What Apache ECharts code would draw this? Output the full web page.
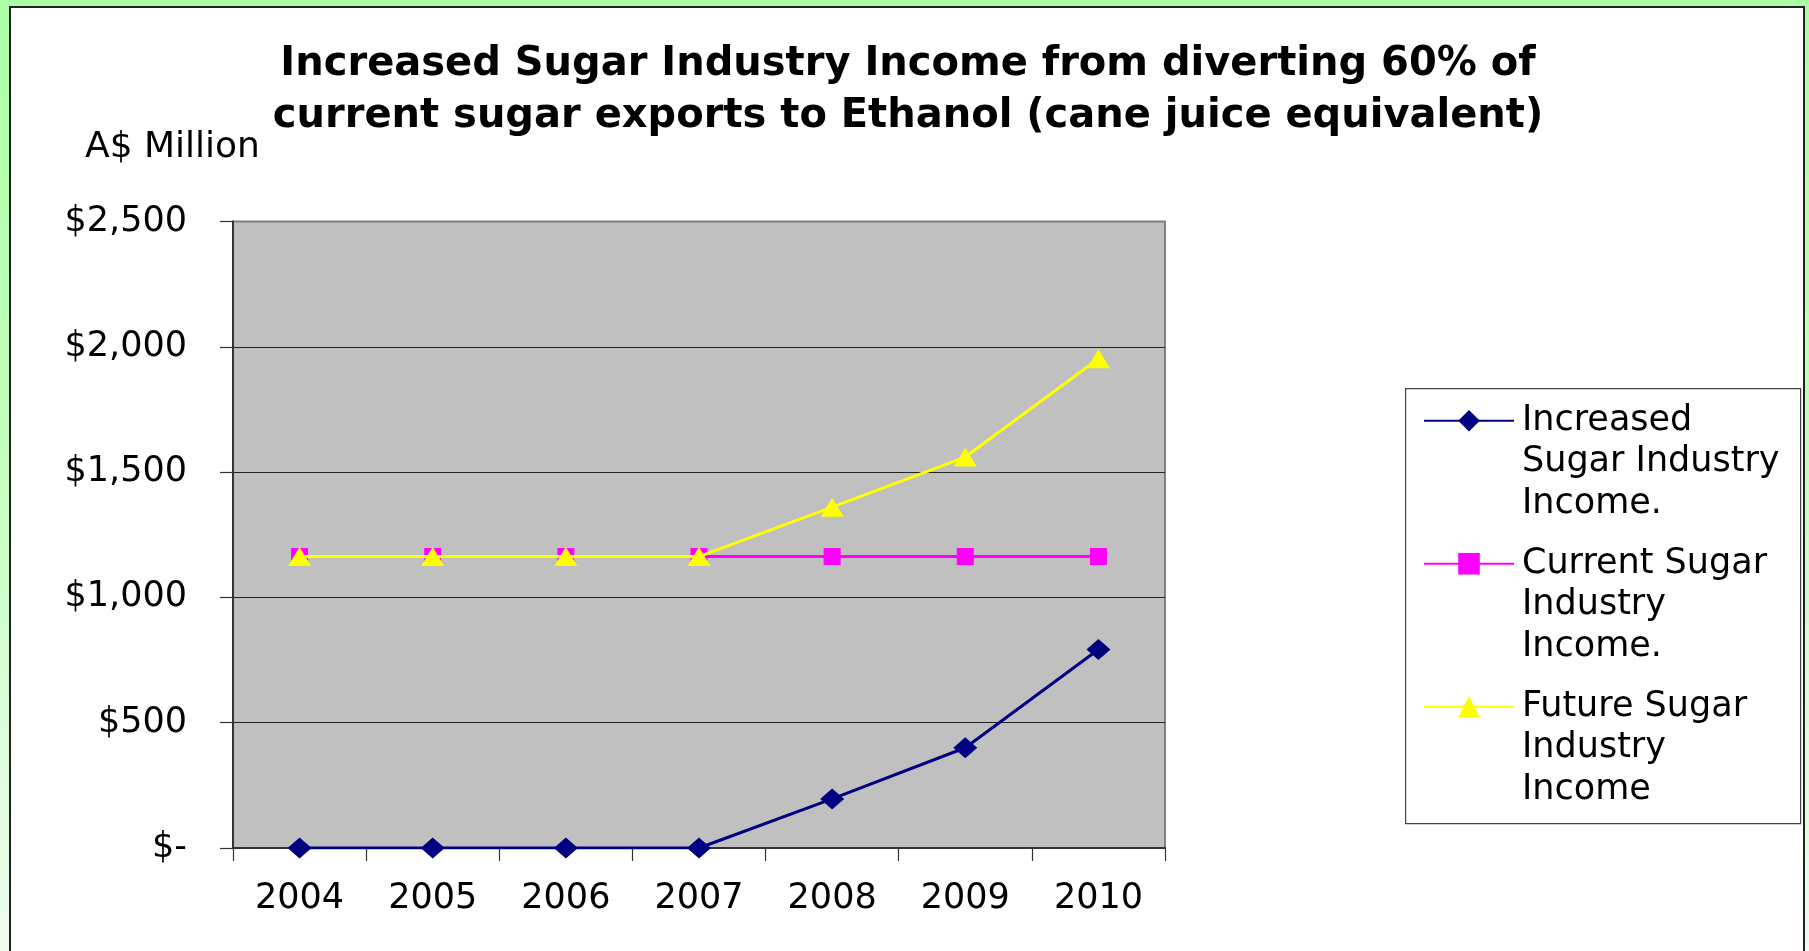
<!DOCTYPE html>
<html>
<head>
<meta charset="utf-8">
<script src="https://cdn.jsdelivr.net/npm/echarts@6/dist/echarts.min.js"></script>
<style>
  html, body { margin: 0; padding: 0; width: 1809px; height: 951px; overflow: hidden; }
  body { background: linear-gradient(to bottom, #acffa6 0%, #bfffb8 40%, #eefdee 100%); position: relative; }
  #panel { position: absolute; left: 9px; top: 6px; width: 1796px; height: 960px; box-sizing: border-box;
           border: 2px solid #222; background: #ffffff; }
  #chart { position: absolute; left: 0; top: 0; width: 1809px; height: 951px; }
</style>
</head>
<body>
<div id="panel"></div>
<div id="chart"></div>
<script>
// ---- data ----
const years = ['2004', '2005', '2006', '2007', '2008', '2009', '2010'];
const increasedIncome = [0, 0, 0, 0, 196, 400, 792];
const currentIncome = [1163, 1163, 1163, 1163, 1163, 1163, 1163];
const futureIncome = [1163, 1163, 1163, 1163, 1360, 1560, 1952];
const seriesNames = ['Increased Sugar Industry Income.', 'Current Sugar Industry Income.', 'Future Sugar Industry Income'];
const legendLabels = ['Increased\nSugar Industry\nIncome.', 'Current Sugar\nIndustry\nIncome.', 'Future Sugar\nIndustry\nIncome'];
const titleText = 'Increased Sugar Industry Income from diverting 60% of\ncurrent sugar exports to Ethanol (cane juice equivalent)';
const unitText = 'A$ Million';
const yMin = 0, yMax = 2500, yStep = 500;

// ---- chart ----
const FONT = 'DejaVu Sans';
const chart = echarts.init(document.getElementById('chart'), null, { renderer: 'canvas' });
const LH = 41.5;

chart.setOption({
  animation: false,
  textStyle: { fontFamily: FONT, color: '#000' },
  title: [
    {
      text: titleText,
      left: 908, top: 39, padding: 0, textAlign: 'center',
      textStyle: { fontFamily: FONT, fontSize: 40, fontWeight: 'bold', color: '#000', lineHeight: 52 }
    },
    {
      text: unitText,
      left: 85, top: 128, padding: 0,
      textStyle: { fontFamily: FONT, fontSize: 36, fontWeight: 'normal', color: '#000', lineHeight: 40 }
    }
  ],
  legend: {
    orient: 'vertical',
    left: 1423, top: 317, padding: 0,
    itemWidth: 90, itemHeight: 27, itemGap: -64.5,
    data: seriesNames,
    // two leading blank lines so the icon sits beside the first text line
    formatter: function (name) { return '\n\n' + legendLabels[seriesNames.indexOf(name)]; },
    textStyle: { fontFamily: FONT, fontSize: 35, color: '#000', lineHeight: LH, padding: [0, 0, 0, 3] },
    selectedMode: false
  },
  graphic: [
    { type: 'rect', left: 1405, top: 388, z: -1,
      shape: { width: 395, height: 435 },
      style: { fill: '#ffffff', stroke: '#444', lineWidth: 1.2 } }
  ],
  grid: {
    left: 233, right: 644, top: 221.5, bottom: 103,
    show: true, backgroundColor: '#c0c0c0', borderColor: '#808080', borderWidth: 2,
    containLabel: false
  },
  xAxis: {
    type: 'category', data: years, boundaryGap: true,
    axisLine: { show: true, lineStyle: { color: '#333', width: 2 } },
    axisTick: { show: true, length: 13, inside: false, lineStyle: { color: '#333', width: 1.2 } },
    axisLabel: { margin: 33, fontFamily: FONT, fontSize: 35, color: '#000' },
    splitLine: { show: false }
  },
  yAxis: {
    type: 'value', min: yMin, max: yMax, interval: yStep,
    axisLine: { show: true, lineStyle: { color: '#333', width: 2 } },
    axisTick: { show: true, length: 13, inside: false, lineStyle: { color: '#333', width: 1.2 } },
    axisLabel: {
      margin: 46, fontFamily: FONT, fontSize: 35, color: '#000',
      formatter: function (v) { return v === 0 ? '$-' : '$' + v.toLocaleString('en-US'); }
    },
    splitLine: { show: true, showMinLine: false, showMaxLine: false, lineStyle: { color: '#222', width: 1.2 } }
  },
  series: [
    {
      name: seriesNames[0], type: 'line', data: increasedIncome,
      symbol: 'diamond', symbolSize: [24, 21],
      lineStyle: { color: '#000080', width: 3 },
      itemStyle: { color: '#000080', borderWidth: 0 },
      z: 2
    },
    {
      name: seriesNames[1], type: 'line', data: currentIncome,
      symbol: 'rect', symbolSize: [17, 17],
      lineStyle: { color: '#ff00ff', width: 3 },
      itemStyle: { color: '#ff00ff', borderWidth: 0 },
      z: 3
    },
    {
      name: seriesNames[2], type: 'line', data: futureIncome,
      symbol: 'triangle', symbolSize: [23, 19],
      lineStyle: { color: '#ffff00', width: 3 },
      itemStyle: { color: '#ffff00', borderWidth: 0 },
      z: 4
    }
  ]
});
</script>
</body>
</html>
